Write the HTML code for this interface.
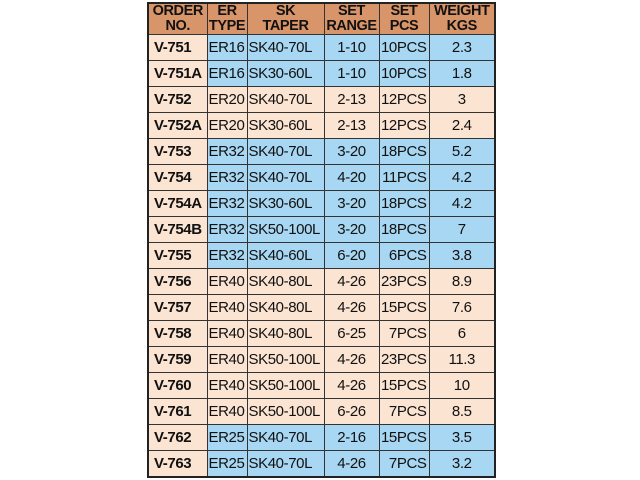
<!DOCTYPE html>
<html><head><meta charset="utf-8"><style>
body{margin:0;width:640px;height:480px;background:#fff;overflow:hidden;font-family:"Liberation Sans",Arial,sans-serif;}
table{position:absolute;left:147px;top:2px;border-collapse:collapse;border:2px solid #222;table-layout:fixed;width:349px;}
td{border:1px solid #333;padding:0;height:25px;line-height:16px;font-size:15px;letter-spacing:-0.4px;color:#111;white-space:nowrap;overflow:hidden;}
tr.h td{height:30px;background:#d9956a;font-weight:bold;font-size:14.5px;line-height:15px;text-align:center;}
td.o{background:#fbe4d2;font-weight:bold;padding-left:5px;}
tr.b td:not(.o){background:#a7d7f2;}
tr.p td:not(.o){background:#fbe4d2;}
td.c{text-align:center;}
td.r{text-align:right;padding-right:2px;}
td.l{padding-left:1px;}
</style></head><body>
<table>
<colgroup><col style="width:59px"><col style="width:40px"><col style="width:77px"><col style="width:55px"><col style="width:50px"><col style="width:66px"></colgroup>
<tr class="h"><td>ORDER<br>NO.</td><td>ER<br>TYPE</td><td>SK<br>TAPER</td><td>SET<br>RANGE</td><td>SET<br>PCS</td><td>WEIGHT<br>KGS</td></tr>
<tr class="b"><td class="o">V-751</td><td class="l">ER16</td><td class="l">SK40-70L</td><td class="c">1-10</td><td class="r">10PCS</td><td class="c">2.3</td></tr>
<tr class="b"><td class="o">V-751A</td><td class="l">ER16</td><td class="l">SK30-60L</td><td class="c">1-10</td><td class="r">10PCS</td><td class="c">1.8</td></tr>
<tr class="p"><td class="o">V-752</td><td class="l">ER20</td><td class="l">SK40-70L</td><td class="c">2-13</td><td class="r">12PCS</td><td class="c">3</td></tr>
<tr class="p"><td class="o">V-752A</td><td class="l">ER20</td><td class="l">SK30-60L</td><td class="c">2-13</td><td class="r">12PCS</td><td class="c">2.4</td></tr>
<tr class="b"><td class="o">V-753</td><td class="l">ER32</td><td class="l">SK40-70L</td><td class="c">3-20</td><td class="r">18PCS</td><td class="c">5.2</td></tr>
<tr class="b"><td class="o">V-754</td><td class="l">ER32</td><td class="l">SK40-70L</td><td class="c">4-20</td><td class="r">11PCS</td><td class="c">4.2</td></tr>
<tr class="b"><td class="o">V-754A</td><td class="l">ER32</td><td class="l">SK30-60L</td><td class="c">3-20</td><td class="r">18PCS</td><td class="c">4.2</td></tr>
<tr class="b"><td class="o">V-754B</td><td class="l">ER32</td><td class="l">SK50-100L</td><td class="c">3-20</td><td class="r">18PCS</td><td class="c">7</td></tr>
<tr class="b"><td class="o">V-755</td><td class="l">ER32</td><td class="l">SK40-60L</td><td class="c">6-20</td><td class="r">6PCS</td><td class="c">3.8</td></tr>
<tr class="p"><td class="o">V-756</td><td class="l">ER40</td><td class="l">SK40-80L</td><td class="c">4-26</td><td class="r">23PCS</td><td class="c">8.9</td></tr>
<tr class="p"><td class="o">V-757</td><td class="l">ER40</td><td class="l">SK40-80L</td><td class="c">4-26</td><td class="r">15PCS</td><td class="c">7.6</td></tr>
<tr class="p"><td class="o">V-758</td><td class="l">ER40</td><td class="l">SK40-80L</td><td class="c">6-25</td><td class="r">7PCS</td><td class="c">6</td></tr>
<tr class="p"><td class="o">V-759</td><td class="l">ER40</td><td class="l">SK50-100L</td><td class="c">4-26</td><td class="r">23PCS</td><td class="c">11.3</td></tr>
<tr class="p"><td class="o">V-760</td><td class="l">ER40</td><td class="l">SK50-100L</td><td class="c">4-26</td><td class="r">15PCS</td><td class="c">10</td></tr>
<tr class="p"><td class="o">V-761</td><td class="l">ER40</td><td class="l">SK50-100L</td><td class="c">6-26</td><td class="r">7PCS</td><td class="c">8.5</td></tr>
<tr class="b"><td class="o">V-762</td><td class="l">ER25</td><td class="l">SK40-70L</td><td class="c">2-16</td><td class="r">15PCS</td><td class="c">3.5</td></tr>
<tr class="b"><td class="o">V-763</td><td class="l">ER25</td><td class="l">SK40-70L</td><td class="c">4-26</td><td class="r">7PCS</td><td class="c">3.2</td></tr>
</table>
</body></html>
